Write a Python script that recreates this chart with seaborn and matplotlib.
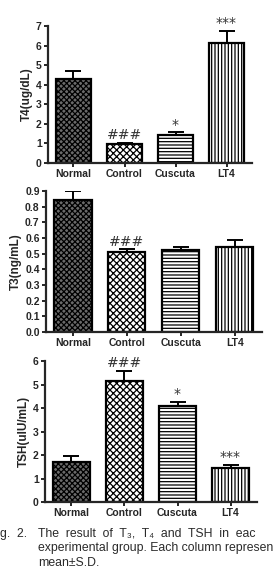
import numpy as np
import pandas as pd
import matplotlib
matplotlib.use('Agg')
import matplotlib.pyplot as plt
import seaborn as sns

# groups and values
grupos = ['Normal', 'Control', 'Cuscuta', 'LT4']

t4_media = [4.28, 0.98, 1.44, 6.12]
t4_dp = [0.41, 0.05, 0.13, 0.63]
t4_sig = ['', '###', '*', '***']

t3_media = [0.842, 0.509, 0.522, 0.544]
t3_dp = [0.055, 0.019, 0.022, 0.046]
t3_sig = ['', '###', '', '']

tsh_media = [1.70, 5.15, 4.08, 1.45]
tsh_dp = [0.26, 0.42, 0.18, 0.12]
tsh_sig = ['', '###', '*', '***']

# legend lines as they appear in the scan (cut at the page edges)
legenda = ['The  result  of  T\u2083,  T\u2084  and  TSH  in  eac',
           'experimental group. Each column represen',
           'mean\u00b1S.D.']

sns.set_style('ticks')
plt.rcParams['font.family'] = ['Liberation Sans', 'DejaVu Sans']
plt.rcParams['hatch.linewidth'] = 0.9

hachuras = ['xxxxxx', 'xxxxx', '-----', '|||||']
cores = ['#6a6a6a', 'white', 'white', 'white']

fig = plt.figure(figsize=(2.75, 5.87), dpi=100)

paineis = [
    ([0.1745, 0.7223, 0.742, 0.2334], t4_media, t4_dp, t4_sig, 'T4(ug/dL)', 7, 1),
    ([0.167, 0.4344, 0.785, 0.2402], t3_media, t3_dp, t3_sig, 'T3(ng/mL)', 0.9, 0.1),
    ([0.1636, 0.1448, 0.771, 0.2402], tsh_media, tsh_dp, tsh_sig, 'TSH(uIU/mL)', 6, 1),
]

for pos, media, dp, sig, rotulo, ymax, passo in paineis:
    ax = fig.add_axes(pos)
    df = pd.DataFrame({'Grupo': grupos, 'Valor': media})
    sns.barplot(data=df, x='Grupo', y='Valor', ax=ax, width=0.69,
                color='white', edgecolor='black', linewidth=1.6, errorbar=None)
    for barra, h, c in zip(ax.patches, hachuras, cores):
        barra.set_hatch(h)
        barra.set_facecolor(c)
    x = np.arange(len(grupos))
    ax.errorbar(x, media, yerr=[np.zeros(len(dp)), dp], fmt='none',
                ecolor='black', elinewidth=1.4, capsize=5.5, capthick=1.4)
    for i in range(len(grupos)):
        if sig[i]:
            ax.annotate(sig[i], (i, media[i] + dp[i]), xytext=(0, 0.5),
                        textcoords='offset points', ha='center', va='bottom',
                        fontsize=10, family='DejaVu Sans', color='#333333')
    ax.set_ylim(0, ymax)
    ticks = np.arange(0, ymax + passo / 2, passo)
    ax.set_yticks(ticks)
    if passo < 1:
        ax.set_yticklabels(['%.1f' % v for v in ticks])
    ax.set_xlim(-0.5, 3.5)
    ax.set_xlabel('')
    ax.set_ylabel(rotulo, fontsize=8.5, fontweight='bold', labelpad=2)
    sns.despine(ax=ax)
    for lado in ['left', 'bottom']:
        ax.spines[lado].set_linewidth(1.6)
    ax.tick_params(axis='both', width=1.4, length=3, pad=1.5, labelsize=7.5)
    for lab in ax.get_xticklabels() + ax.get_yticklabels():
        lab.set_fontweight('bold')

cor_leg = '#2a2a2a'
fig.text(0.0, 1 - 534 / 587, 'g.  2.', ha='left', va='center',
         fontsize=8.8, color=cor_leg)
for k, linha in enumerate(legenda):
    fig.text(38 / 275, 1 - (534 + 14.5 * k) / 587, linha, ha='left', va='center',
             fontsize=8.8, color=cor_leg)

plt.savefig('out.png', dpi=100)
